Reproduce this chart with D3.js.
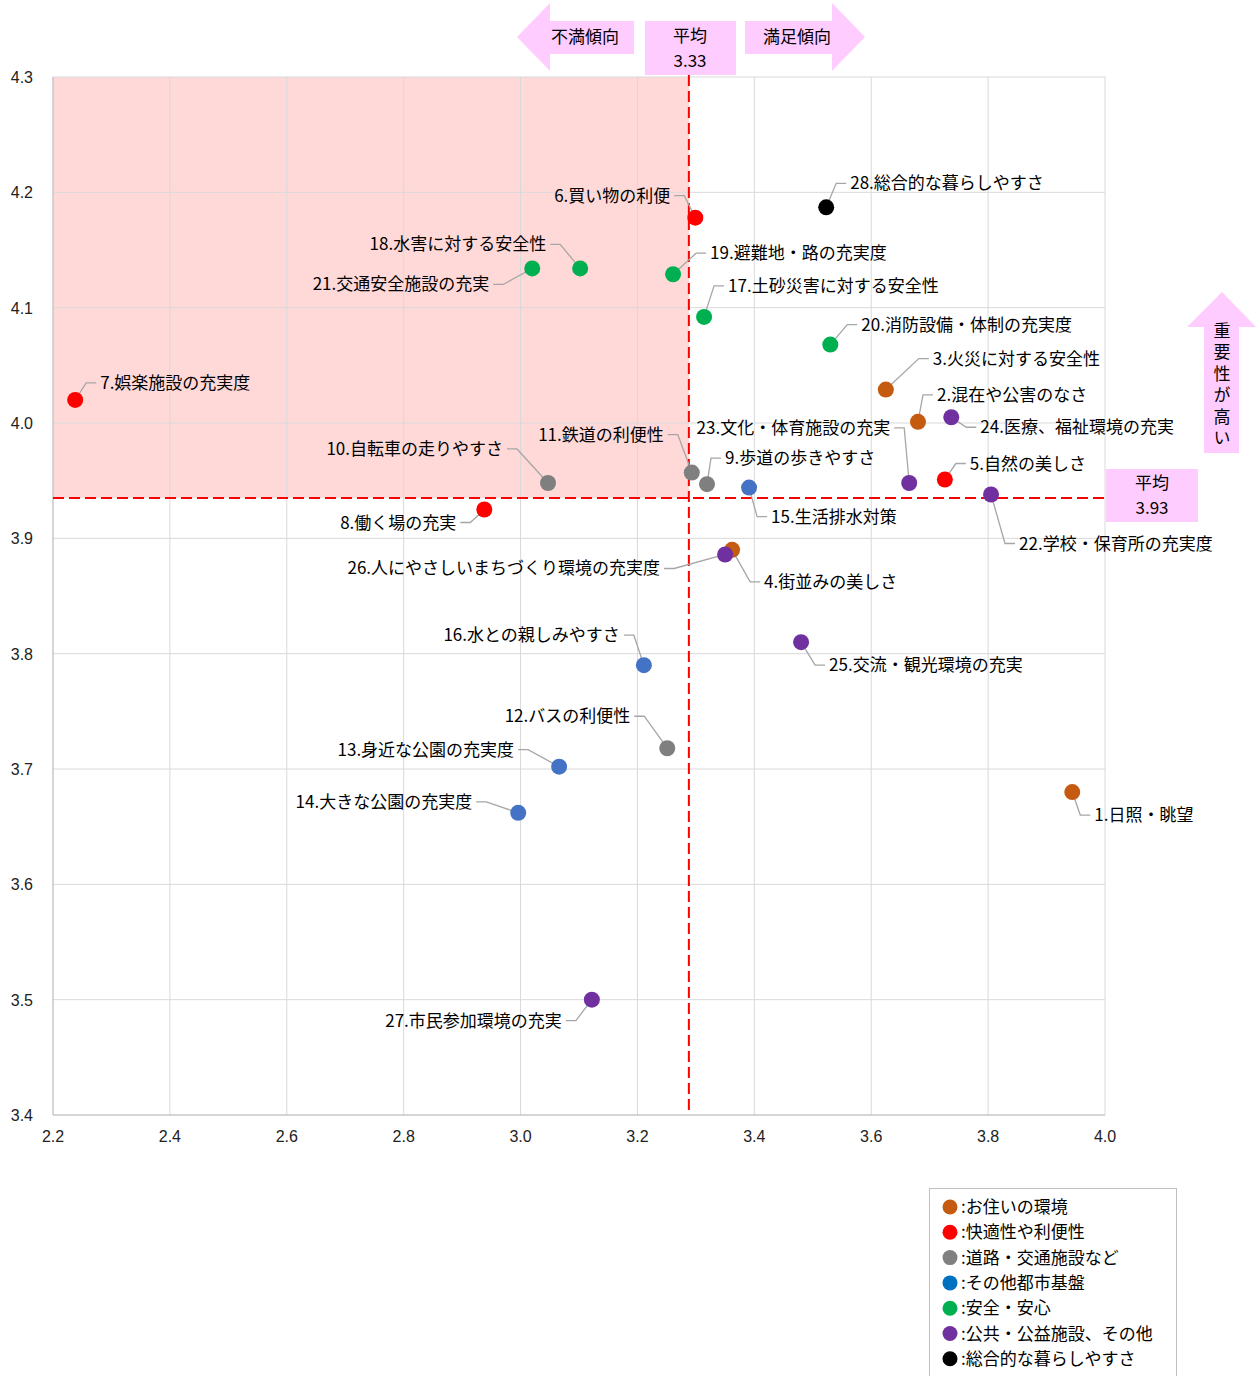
<!DOCTYPE html>
<html>
<head>
<meta charset="utf-8">
<script src="https://cdn.jsdelivr.net/npm/d3@7"></script>
<style>
  body { margin: 0; background: #fff; }
  text { font-family: "Noto Sans CJK JP", "Noto Sans", sans-serif; fill: #000; }
  .tick-label { font-family: "Liberation Sans", Arial, sans-serif; font-size: 16px; fill: #222; }
</style>
</head>
<body>
<div id="chart"></div>
<script>
// items (満足度 x, 重要度 y)
var names = ["日照・眺望", "混在や公害のなさ", "火災に対する安全性", "街並みの美しさ", "自然の美しさ",
  "買い物の利便", "娯楽施設の充実度", "働く場の充実", "歩道の歩きやすさ", "自転車の走りやすさ",
  "鉄道の利便性", "バスの利便性", "身近な公園の充実度", "大きな公園の充実度", "生活排水対策",
  "水との親しみやすさ", "土砂災害に対する安全性", "水害に対する安全性", "避難地・路の充実度", "消防設備・体制の充実度",
  "交通安全施設の充実", "学校・保育所の充実度", "文化・体育施設の充実", "医療、福祉環境の充実", "交流・観光環境の充実",
  "人にやさしいまちづくり環境の充実度", "市民参加環境の充実", "総合的な暮らしやすさ"];
var satisfaction = [3.944, 3.680, 3.625, 3.362, 3.726, 3.299, 2.238, 2.938, 3.319, 3.047,
  3.293, 3.251, 3.066, 2.996, 3.391, 3.211, 3.314, 3.102, 3.261, 3.530,
  3.020, 3.805, 3.665, 3.737, 3.480, 3.350, 3.122, 3.523];
var importance = [3.680, 4.001, 4.029, 3.890, 3.951, 4.178, 4.020, 3.925, 3.947, 3.948,
  3.957, 3.718, 3.702, 3.662, 3.944, 3.790, 4.092, 4.134, 4.129, 4.068,
  4.134, 3.938, 3.948, 4.005, 3.810, 3.886, 3.500, 4.187];
var group = [0, 0, 0, 0, 1, 1, 1, 1, 2, 2, 2, 2, 3, 3, 3, 3, 4, 4, 4, 4, 4, 5, 5, 5, 5, 5, 5, 6];

var categories = ["お住いの環境", "快適性や利便性", "道路・交通施設など", "その他都市基盤",
  "安全・安心", "公共・公益施設、その他", "総合的な暮らしやすさ"];

var xTicks = [2.2, 2.4, 2.6, 2.8, 3.0, 3.2, 3.4, 3.6, 3.8, 4.0];
var yTicks = [3.4, 3.5, 3.6, 3.7, 3.8, 3.9, 4.0, 4.1, 4.2, 4.3];

var avgX = 3.288, avgXLabel = "3.33";
var avgY = 3.935, avgYLabel = "3.93";

// styling / layout
var pointColors = ["#c55a11", "#ff0000", "#7f7f7f", "#4472c4", "#00b050", "#7030a0", "#000000"];
var legendColors = ["#c55a11", "#ff0000", "#808080", "#0070c0", "#00b050", "#7030a0", "#000000"];
// label offsets from the point: [dx, dy, anchor]
var labelOffsets = [[22, 23, "start"], [19, -27, "start"], [47, -31, "start"], [32, 32, "start"], [25, -16, "start"],
  [-25, -22, "end"], [25, -17, "start"], [-28, 13, "end"], [18, -26, "start"], [-45, -34, "end"],
  [-28, -38, "end"], [-37, -32, "end"], [-45, -17, "end"], [-46, -11, "end"], [22, 29, "start"],
  [-24, -30, "end"], [24, -31, "start"], [-34, -24, "end"], [37, -21, "start"], [31, -20, "start"],
  [-43, 16, "end"], [28, 49, "start"], [-19, -55, "end"], [29, 10, "start"], [28, 23, "start"],
  [-65, 14, "end"], [-30, 21, "end"], [24, -24, "start"]];

var W = 1259, H = 1376;
var svg = d3.select("#chart").append("svg")
  .attr("width", W).attr("height", H);

var x = d3.scaleLinear().domain([2.2, 4.0]).range([53, 1105]);
var y = d3.scaleLinear().domain([3.4, 4.3]).range([1115, 77]);

// shaded quadrant (low satisfaction, high importance)
svg.append("rect")
  .attr("x", x(2.2)).attr("y", y(4.3))
  .attr("width", x(avgX) - x(2.2))
  .attr("height", y(avgY) - y(4.3))
  .attr("fill", "#ffd8d8");

// gridlines
svg.append("g").selectAll("line.vx")
  .data(xTicks).enter().append("line")
  .attr("x1", function(d) { return x(d); }).attr("x2", function(d) { return x(d); })
  .attr("y1", y(4.3)).attr("y2", y(3.4))
  .attr("stroke", "#d9d9d9").attr("stroke-width", 1);
svg.append("g").selectAll("line.hy")
  .data(yTicks).enter().append("line")
  .attr("x1", x(2.2)).attr("x2", x(4.0))
  .attr("y1", function(d) { return y(d); }).attr("y2", function(d) { return y(d); })
  .attr("stroke", "#d9d9d9").attr("stroke-width", 1);
// axis lines
svg.append("line").attr("x1", x(2.2)).attr("x2", x(2.2)).attr("y1", y(4.3)).attr("y2", y(3.4))
  .attr("stroke", "#bfbfbf");
svg.append("line").attr("x1", x(2.2)).attr("x2", x(4.0)).attr("y1", y(3.4)).attr("y2", y(3.4))
  .attr("stroke", "#bfbfbf");

// tick labels
svg.append("g").selectAll("text")
  .data(xTicks).enter().append("text")
  .attr("class", "tick-label")
  .attr("x", function(d) { return x(d); })
  .attr("y", y(3.4) + 27)
  .attr("text-anchor", "middle")
  .text(d3.format(".1f"));
svg.append("g").selectAll("text")
  .data(yTicks).enter().append("text")
  .attr("class", "tick-label")
  .attr("x", 33)
  .attr("y", function(d) { return y(d) + 6; })
  .attr("text-anchor", "end")
  .text(d3.format(".1f"));

// average lines
svg.append("line")
  .attr("x1", x(avgX)).attr("x2", x(avgX))
  .attr("y1", 75).attr("y2", y(3.4))
  .attr("stroke", "#ff0000").attr("stroke-width", 2).attr("stroke-dasharray", "11,5");
svg.append("line")
  .attr("x1", x(2.2)).attr("x2", 1106)
  .attr("y1", y(avgY)).attr("y2", y(avgY))
  .attr("stroke", "#ff0000").attr("stroke-width", 2).attr("stroke-dasharray", "11,5");

// pink arrows and boxes
var pink = "#ffccff";
svg.append("path")
  .attr("d", "M517,37 L550,3 L550,21 L634,21 L634,54 L550,54 L550,71 Z")
  .attr("fill", pink);
svg.append("path")
  .attr("d", "M865,37 L832,3 L832,21 L745,21 L745,54 L832,54 L832,71 Z")
  .attr("fill", pink);
svg.append("rect").attr("x", 645).attr("y", 21).attr("width", 91).attr("height", 54).attr("fill", pink);
svg.append("path")
  .attr("d", "M1222,292 L1256,327 L1239,327 L1239,453 L1204,453 L1204,327 L1187,327 Z")
  .attr("fill", pink);
svg.append("rect").attr("x", 1106).attr("y", 469).attr("width", 92).attr("height", 53).attr("fill", pink);

var boxText = [
  {t: "不満傾向", x: 585, y: 43}, {t: "満足傾向", x: 797, y: 43},
  {t: "平均", x: 690, y: 42}, {t: avgXLabel, x: 690, y: 67},
  {t: "平均", x: 1152, y: 489}, {t: avgYLabel, x: 1152, y: 514}
];
svg.append("g").selectAll("text")
  .data(boxText).enter().append("text")
  .attr("x", function(d) { return d.x; })
  .attr("y", function(d) { return d.y; })
  .attr("text-anchor", "middle")
  .style("font-size", "17px")
  .text(function(d) { return d.t; });

// vertical caption
svg.append("text")
  .attr("x", 1222)
  .attr("y", 322)
  .style("writing-mode", "vertical-rl")
  .style("font-size", "17px")
  .style("letter-spacing", "4.5px")
  .text("重要性が高い");

// leader lines
var items = names.map(function(n, i) {
  var o = labelOffsets[i];
  var px = x(satisfaction[i]), py = y(importance[i]);
  var tx = px + o[0], ty = py + o[1];
  var s = o[2] === "start" ? -1 : 1;
  return {name: (i + 1) + "." + n, px: px, py: py, tx: tx, ty: ty, anchor: o[2], s: s, g: group[i]};
});

svg.append("g").selectAll("path")
  .data(items).enter().append("path")
  .attr("d", function(d) {
    var a = d.tx + d.s * 4, b = d.tx + d.s * 14;
    return "M" + a + "," + d.ty + " L" + b + "," + d.ty + " L" + d.px + "," + d.py;
  })
  .attr("fill", "none").attr("stroke", "#a6a6a6").attr("stroke-width", 1.3);

// points
svg.append("g").selectAll("circle")
  .data(items).enter().append("circle")
  .attr("cx", function(d) { return d.px; })
  .attr("cy", function(d) { return d.py; })
  .attr("r", 8)
  .attr("fill", function(d) { return pointColors[d.g]; });

// labels
svg.append("g").selectAll("text")
  .data(items).enter().append("text")
  .attr("x", function(d) { return d.tx; })
  .attr("y", function(d) { return d.ty + 6; })
  .attr("text-anchor", function(d) { return d.anchor; })
  .style("font-size", "17px")
  .text(function(d) { return d.name; });

// legend
var legend = svg.append("g");
legend.append("rect")
  .attr("x", 929.5).attr("y", 1188.5).attr("width", 247).attr("height", 200)
  .attr("fill", "#fff").attr("stroke", "#bfbfbf");
var rows = legend.selectAll("g.row")
  .data(categories).enter().append("g")
  .attr("transform", function(d, i) { return "translate(0," + (1207 + i * 25.3) + ")"; });
rows.append("circle").attr("cx", 950).attr("cy", 0).attr("r", 7.5)
  .attr("fill", function(d, i) { return legendColors[i]; });
rows.append("text").attr("x", 961).attr("y", 6)
  .style("font-size", "17px")
  .text(function(d) { return ":" + d; });
</script>
</body>
</html>
